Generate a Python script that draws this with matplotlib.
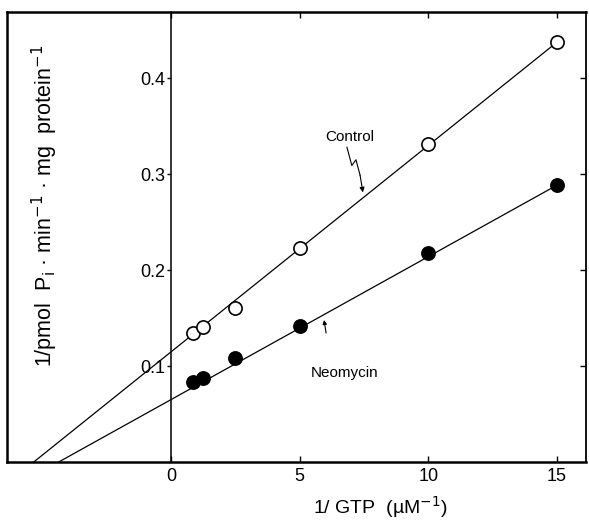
import matplotlib
matplotlib.use("Agg")
import matplotlib.pyplot as plt
import matplotlib.lines as mlines

# 1/GTP (uM^-1) and 1/v values
inv_gtp = [0.84, 1.24, 2.5, 5, 10, 15]
control = [0.134, 0.141, 0.160, 0.223, 0.331, 0.4375]
neomycin = [0.0836, 0.0875, 0.108, 0.142, 0.218, 0.2885]

# where the hand drawn lines meet the 1/GTP axis
control_x0 = -5.33
neomycin_x0 = -4.36

xticks = [0, 5, 10, 15]
yticks = [0.1, 0.2, 0.3, 0.4]

plt.rcParams['font.family'] = ['Liberation Sans', 'DejaVu Sans']

fig = plt.figure(figsize=(5.89, 5.22), dpi=100)
ax = fig.add_axes([7 / 589, 60 / 522, 579 / 589, 450 / 522])
ax.set_xlim(-6.37, 16.13)
ax.set_ylim(0, 0.469)

for ys, x0, face in [(control, control_x0, 'white'), (neomycin, neomycin_x0, 'black')]:
    # line from the x intercept up to the last point
    ax.plot([x0, inv_gtp[-1]], [0, ys[-1]], color='black', lw=0.9, zorder=2)
    ax.plot(inv_gtp, ys, 'o', ms=9.5, mfc=face, mec='black', mew=1.2, zorder=3)

# y axis drawn at x = 0, full frame kept around the plot
ax.spines['left'].set_position(('data', 0))
ax.spines['left'].set_linewidth(1.1)
ax.axvline(ax.get_xlim()[0], color='black', lw=1.8, clip_on=False)
ax.spines['bottom'].set_linewidth(1.8)
ax.spines['top'].set_linewidth(1.8)
ax.spines['right'].set_linewidth(1.3)

ax.set_xticks(xticks)
ax.set_yticks(yticks)
ax.set_yticklabels([f"{t:.1f}" for t in yticks])
ax.tick_params(axis='x', direction='in', length=4, width=1, labelsize=13, pad=4, top=True)
ax.tick_params(axis='y', direction='out', length=3, width=1, labelsize=13, pad=1, right=True)
for t in ax.yaxis.get_major_ticks():
    t.tick2line.set_marker(mlines.TICKLEFT)
    t.tick2line.set_markersize(4)

ax.set_xlabel('1/ GTP  (µM$^{-1}$)', fontsize=14)
ax.xaxis.set_label_coords(0.644, -0.072)
ax.set_ylabel('1/pmol  P$_\\mathrm{i}$ · min$^{-1}$ · mg  protein$^{-1}$', fontsize=15.5)
ax.yaxis.set_label_coords(0.092, 0.569)

ax.text(6.96, 0.3385, 'Control', fontsize=11, ha='center', va='center')
ax.plot([6.84, 7.03, 7.19, 7.35], [0.328, 0.309, 0.315, 0.299], color='black', lw=0.8)
ax.annotate('', xy=(7.46, 0.281), xytext=(7.35, 0.299),
            arrowprops=dict(arrowstyle='-|>', lw=0.8, color='black',
                            mutation_scale=7, shrinkA=0, shrinkB=0))
ax.text(6.76, 0.0927, 'Neomycin', fontsize=11, ha='center', va='center')
ax.annotate('', xy=(5.95, 0.148), xytext=(6.03, 0.1344),
            arrowprops=dict(arrowstyle='-|>', lw=0.8, color='black',
                            mutation_scale=6, shrinkA=0, shrinkB=0))

fig.savefig('out.png', dpi=100)
